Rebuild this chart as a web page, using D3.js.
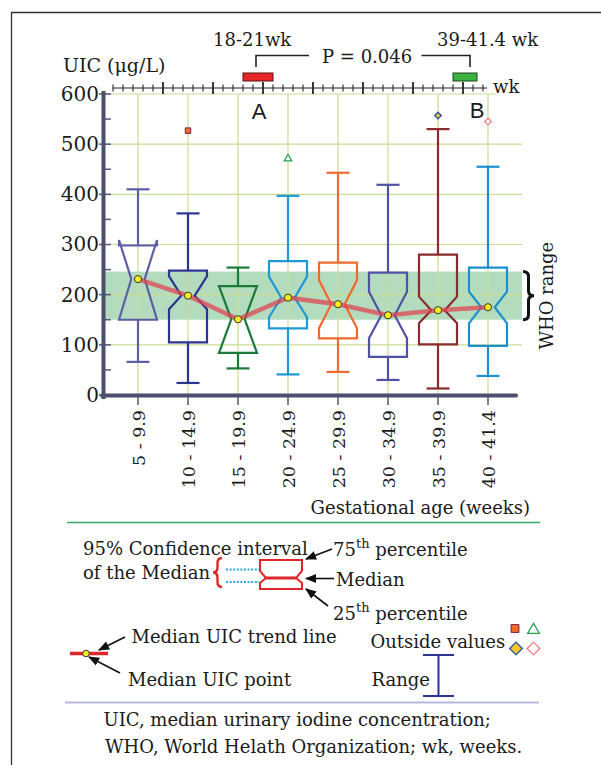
<!DOCTYPE html>
<html><head><meta charset="utf-8">
<script src="https://cdn.jsdelivr.net/npm/d3@7"></script>
<style>body{margin:0;background:#fff}svg{display:block}text{font-family:"DejaVu Serif",serif;fill:#1a1a1a}</style>
</head><body>
<script>
// ---- data ----
const categories = ["5 - 9.9","10 - 14.9","15 - 19.9","20 - 24.9","25 - 29.9","30 - 34.9","35 - 39.9","40 - 41.4"];
const whiskerLow  = [66, 24, 53, 41, 46, 30, 13, 38];
const q1          = [150, 105, 84, 133, 113, 76, 101, 98];
const ciLow       = [150, 171, 84, 155, 133, 113, 143, 143];
const median      = [231, 198, 151, 194, 181, 159, 169, 175];
const ciHigh      = [309, 237, 217, 236, 229, 206, 196, 206];
const q3          = [298, 248, 217, 267, 264, 244, 280, 254];
const whiskerHigh = [410, 362, 254, 397, 443, 419, 530, 455];
const boxColors   = ["#5c5ea8","#2b3590","#1b7a38","#1d9ad6","#f0692e","#5052a6","#8a2b2e","#1b8fd0"];
const outlierCat  = [1, 3, 6, 7];
const outlierVal  = [527, 471, 557, 545];
const outlierKind = ["square","triangle","diamondFilled","diamondOpen"];
const yTicks = [0,100,200,300,400,500,600];
const whoRange = [150, 246];
const periodA = [18, 21];
const periodB = [39, 41.4];

const W = 601, H = 765;
const svg = d3.select("body").append("svg").attr("width", W).attr("height", H);

// frame
svg.append("path").attr("d", "M11.5,765 L11.5,12.5 L601,12.5").attr("fill","none").attr("stroke","#333").attr("stroke-width",1.3);

const y = d3.scaleLinear().domain([0,600]).range([395, 94]);
const x = d3.scaleBand().domain(categories).range([113, 513]).padding(0);
const wk = d3.scaleLinear().domain([5,45]).range([113,513]);
const cx = i => x(categories[i]) + x.bandwidth()/2;
const plotL = 104, plotR = 522;

// WHO band
svg.append("rect").attr("x", plotL).attr("width", plotR-plotL)
  .attr("y", y(whoRange[1])).attr("height", y(whoRange[0]) - y(whoRange[1]))
  .attr("fill", "#a6d6b3").attr("opacity", 0.85);

// grid
const grid = svg.append("g").attr("stroke","#c9dd93").attr("stroke-width",1.2);
yTicks.filter(v=>v>0).forEach(v => {
  grid.append("line").attr("x1", plotL).attr("x2", v===600 ? 496 : plotR).attr("y1", y(v)).attr("y2", y(v));
});
categories.forEach((c,i) => {
  grid.append("line").attr("x1", cx(i)).attr("x2", cx(i)).attr("y1", y(600)).attr("y2", y(0));
});

// y axis labels via d3 axis
const yAxisG = svg.append("g").attr("transform","translate(103,0)")
  .call(d3.axisLeft(y).tickValues(yTicks).tickSize(0).tickPadding(4).tickFormat(d3.format("d")));
yAxisG.select(".domain").remove();
yAxisG.selectAll("text").style("font-family","DejaVu Serif").style("font-size","20px").attr("fill","#1a1a1a");

// y ticks (inside)
const tk = svg.append("g").attr("stroke","#555a78").attr("stroke-width",1.5);
d3.range(0, 601, 50).forEach(v => {
  tk.append("line").attr("x1", v%100===0 ? 99 : 104).attr("x2", 111).attr("y1", y(v)).attr("y2", y(v));
});

// axes lines
svg.append("line").attr("x1",103.5).attr("x2",103.5).attr("y1",91).attr("y2",399).attr("stroke","#4b4f6d").attr("stroke-width",4);
svg.append("line").attr("x1",102).attr("x2",516).attr("y1",395.5).attr("y2",395.5).attr("stroke","#4b4f6d").attr("stroke-width",4).attr("stroke-linecap","round");

// x ticks + labels
categories.forEach((c,i) => {
  svg.append("line").attr("x1",cx(i)).attr("x2",cx(i)).attr("y1",397).attr("y2",405).attr("stroke","#555a78").attr("stroke-width",1.5);
  svg.append("text").attr("transform",`translate(${cx(i)+1},410) rotate(-90)`)
    .attr("text-anchor","end").attr("dy","0.36em").style("font-size","17.5px").text(c);
});
svg.append("text").attr("x",530).attr("y",514).attr("text-anchor","end").style("font-size","18px").text("Gestational age (weeks)");

// boxes
const hw = 19, nw = 6.7, capW = 11.5;
categories.forEach((c,i) => {
  const g = svg.append("g").attr("stroke", boxColors[i]).attr("stroke-width", 2.2).attr("fill","none");
  const X = cx(i);
  g.append("line").attr("x1",X).attr("x2",X).attr("y1",y(whiskerHigh[i])).attr("y2",y(q3[i]));
  g.append("line").attr("x1",X).attr("x2",X).attr("y1",y(q1[i])).attr("y2",y(whiskerLow[i]));
  g.append("line").attr("x1",X-capW).attr("x2",X+capW).attr("y1",y(whiskerHigh[i])).attr("y2",y(whiskerHigh[i]));
  g.append("line").attr("x1",X-capW).attr("x2",X+capW).attr("y1",y(whiskerLow[i])).attr("y2",y(whiskerLow[i]));
  const p = d3.path();
  p.moveTo(X-hw, y(q1[i])); p.lineTo(X-hw, y(ciLow[i])); p.lineTo(X-nw, y(median[i]));
  p.lineTo(X-hw, y(ciHigh[i])); p.lineTo(X-hw, y(q3[i])); p.lineTo(X+hw, y(q3[i]));
  p.lineTo(X+hw, y(ciHigh[i])); p.lineTo(X+nw, y(median[i])); p.lineTo(X+hw, y(ciLow[i]));
  p.lineTo(X+hw, y(q1[i])); p.closePath();
  g.append("path").attr("d", p.toString()).attr("stroke-linejoin","miter");
});

// trend line
svg.append("path").datum(median)
  .attr("d", d3.line().x((d,i)=>cx(i)).y(d=>y(d)))
  .attr("fill","none").attr("stroke","#e0404f").attr("stroke-opacity",0.72).attr("stroke-width",4.5);
svg.selectAll(".mdot").data(median).enter().append("circle")
  .attr("cx",(d,i)=>cx(i)).attr("cy",d=>y(d)).attr("r",3.6)
  .attr("fill","#f4ec1c").attr("stroke","#333").attr("stroke-width",1);

// outliers
function drawMarker(g, kind, X, Y, s) {
  const sq = d3.symbol(d3.symbolSquare, s)();
  if (kind==="square") g.append("path").attr("d", sq).attr("transform",`translate(${X},${Y})`).attr("fill","#f06a2a").attr("stroke","#7a2050").attr("stroke-width",1);
  if (kind==="triangle") g.append("path").attr("d", d3.symbol(d3.symbolTriangle, s*0.9)()).attr("transform",`translate(${X},${Y})`).attr("fill","#fff").attr("stroke","#25a050").attr("stroke-width",1.3);
  if (kind==="diamondFilled") g.append("path").attr("d", sq).attr("transform",`translate(${X},${Y}) rotate(45)`).attr("fill","#f2c72c").attr("stroke","#2a50a8").attr("stroke-width",1.3);
  if (kind==="diamondOpen") g.append("path").attr("d", sq).attr("transform",`translate(${X},${Y}) rotate(45)`).attr("fill","#fff").attr("stroke","#ef8080").attr("stroke-width",1.3);
}
const chartSizes = [30, 26, 22, 22];
outlierCat.forEach((ci,k) => drawMarker(svg, outlierKind[k], cx(ci), y(outlierVal[k]), chartSizes[k]));

// A / B
svg.append("text").attr("x",259).attr("y",119).attr("text-anchor","middle").style("font-family","Liberation Sans, Arial, sans-serif").style("font-size","22px").text("A");
svg.append("text").attr("x",477).attr("y",118).attr("text-anchor","middle").style("font-family","Liberation Sans, Arial, sans-serif").style("font-size","22px").text("B");

// WHO brace and label
function brace(x0, yT, yB, w, dir) {
  const m = (yT+yB)/2, r = 5, xm = x0 + dir*w/2, xt = x0 + dir*w;
  const p = d3.path();
  p.moveTo(x0, yT); p.quadraticCurveTo(xm, yT, xm, yT+r); p.lineTo(xm, m-r);
  p.quadraticCurveTo(xm, m, xt, m); p.quadraticCurveTo(xm, m, xm, m+r);
  p.lineTo(xm, yB-r); p.quadraticCurveTo(xm, yB, x0, yB);
  return p.toString();
}
svg.append("path").attr("d", brace(523, y(whoRange[1]), y(whoRange[0]), 11, 1)).attr("fill","none").attr("stroke","#111").attr("stroke-width",3);
svg.append("text").attr("transform",`translate(553,${(y(whoRange[0])+y(whoRange[1]))/2}) rotate(-90)`).attr("text-anchor","middle").style("font-size","18px").text("WHO range");

// top ruler
const rl = svg.append("g").attr("stroke","#222").attr("stroke-width",1.2);
rl.append("line").attr("x1",wk(5)).attr("x2",wk(42.4)).attr("y1",88).attr("y2",88);
d3.range(5, 43).forEach(w => {
  const major = w % 5 === 0 && w > 5;
  rl.append("line").attr("x1",wk(w)).attr("x2",wk(w)).attr("y1", major ? 82 : 84.5).attr("y2", major ? 94 : 91.5).attr("stroke-width", major ? 1.8 : 1.1);
});
svg.append("rect").attr("x",wk(periodA[0])).attr("width",wk(periodA[1])-wk(periodA[0])).attr("y",73).attr("height",8)
  .attr("fill","#e8262a").attr("stroke","#5a1010").attr("stroke-width",1);
svg.append("rect").attr("x",wk(periodB[0])).attr("width",wk(periodB[1])-wk(periodB[0])).attr("y",73).attr("height",8)
  .attr("fill","#3cb043").attr("stroke","#1a4a1a").attr("stroke-width",1);
svg.append("text").attr("x",493).attr("y",93).style("font-size","18px").text("wk");
svg.append("text").attr("x",63).attr("y",72).style("font-size","19px").text("UIC (μg/L)");
svg.append("text").attr("x",213).attr("y",45.5).style("font-size","18px").text("18-21wk");
svg.append("text").attr("x",437).attr("y",45.5).style("font-size","18px").text("39-41.4 wk");
svg.append("text").attr("x",322).attr("y",63).style("font-size","18px").text("P = 0.046");
svg.append("path").attr("d",`M${wk(19.3)},67 L${wk(19.3)},55.5 L309,55.5 M421.5,55.5 L${wk(40.7)},55.5 L${wk(40.7)},67`)
  .attr("fill","none").attr("stroke","#222").attr("stroke-width",1.6);

// separators
svg.append("line").attr("x1",67).attr("x2",540).attr("y1",522.5).attr("y2",522.5).attr("stroke","#35a96a").attr("stroke-width",1.6);
svg.append("line").attr("x1",65).attr("x2",539).attr("y1",702.5).attr("y2",702.5).attr("stroke","#b9b9dd").attr("stroke-width",2);

// ---- legend ----
const defs = svg.append("defs");
defs.append("marker").attr("id","ah").attr("viewBox","0 0 10 10").attr("refX",9).attr("refY",5)
  .attr("markerWidth",7).attr("markerHeight",7).attr("orient","auto-start-reverse")
  .append("path").attr("d","M0,1 L10,5 L0,9 Z").attr("fill","#111");
const arrow = (x1,y1,x2,y2) => svg.append("line").attr("x1",x1).attr("y1",y1).attr("x2",x2).attr("y2",y2)
  .attr("stroke","#111").attr("stroke-width",1.6).attr("marker-end","url(#ah)");

svg.append("text").attr("x",83).attr("y",555).style("font-size","18px").text("95% Confidence interval");
svg.append("text").attr("x",83).attr("y",579).style("font-size","18px").text("of the Median");
svg.append("path").attr("d", brace(222, 558, 587, 9, -1)).attr("fill","none").attr("stroke","#e0262a").attr("stroke-width",2.4);
[569.5, 582].forEach(yy => svg.append("line").attr("x1",226).attr("x2",259).attr("y1",yy).attr("y2",yy)
  .attr("stroke","#2aa8d8").attr("stroke-width",2).attr("stroke-dasharray","2,1.6"));
{
  const L=260, R=302, n=6;
  const p = d3.path();
  p.moveTo(L,589); p.lineTo(L,583); p.lineTo(L+n,578); p.lineTo(L,571); p.lineTo(L,560);
  p.lineTo(R,560); p.lineTo(R,571); p.lineTo(R-n,578); p.lineTo(R,583); p.lineTo(R,589); p.closePath();
  svg.append("path").attr("d",p.toString()).attr("fill","#fff").attr("stroke","#e0262a").attr("stroke-width",2);
  svg.append("line").attr("x1",L+n).attr("x2",R-n).attr("y1",578).attr("y2",578).attr("stroke","#e0262a").attr("stroke-width",3);
}
arrow(332,549,306,559);
arrow(334,578.5,306,578.5);
arrow(328,606,306,589);
const sup = (xx, yy, num) => {
  const t = svg.append("text").attr("x",xx).attr("y",yy).style("font-size","18px");
  t.append("tspan").text(num);
  t.append("tspan").attr("dy",-8).style("font-size","13px").text("th");
  t.append("tspan").attr("dy",8).text(" percentile");
};
sup(333, 556, "75");
svg.append("text").attr("x",336).attr("y",586).style("font-size","18px").text("Median");
sup(333, 619.5, "25");

svg.append("line").attr("x1",70).attr("x2",108).attr("y1",653.5).attr("y2",653.5).attr("stroke","#e0262a").attr("stroke-width",3.5);
svg.append("circle").attr("cx",86).attr("cy",653.5).attr("r",3.3).attr("fill","#f4ec1c").attr("stroke","#333").attr("stroke-width",1);
arrow(125,637,99,650);
arrow(120,673,89,657);
svg.append("text").attr("x",131.5).attr("y",643).style("font-size","18px").text("Median UIC trend line");
svg.append("text").attr("x",128).attr("y",686).style("font-size","18px").text("Median UIC point");

svg.append("text").attr("x",370.5).attr("y",648).style("font-size","18px").text("Outside values");
drawMarker(svg, "square", 515, 628.5, 62);
drawMarker(svg, "triangle", 533.5, 630, 66);
drawMarker(svg, "diamondFilled", 516, 648.5, 80);
drawMarker(svg, "diamondOpen", 533.5, 648.5, 80);
svg.append("text").attr("x",371.5).attr("y",686).style("font-size","18px").text("Range");
{
  const g = svg.append("g").attr("stroke","#2b3590").attr("stroke-width",2);
  g.append("line").attr("x1",438.5).attr("x2",438.5).attr("y1",655).attr("y2",696);
  g.append("line").attr("x1",423).attr("x2",454).attr("y1",655).attr("y2",655);
  g.append("line").attr("x1",423).attr("x2",454).attr("y1",696).attr("y2",696);
}

svg.append("text").attr("x",103.5).attr("y",726).style("font-size","18px").text("UIC, median urinary iodine concentration;");
svg.append("text").attr("x",105).attr("y",753).style("font-size","18px").text("WHO, World Helath Organization; wk, weeks.");
</script>
</body></html>
